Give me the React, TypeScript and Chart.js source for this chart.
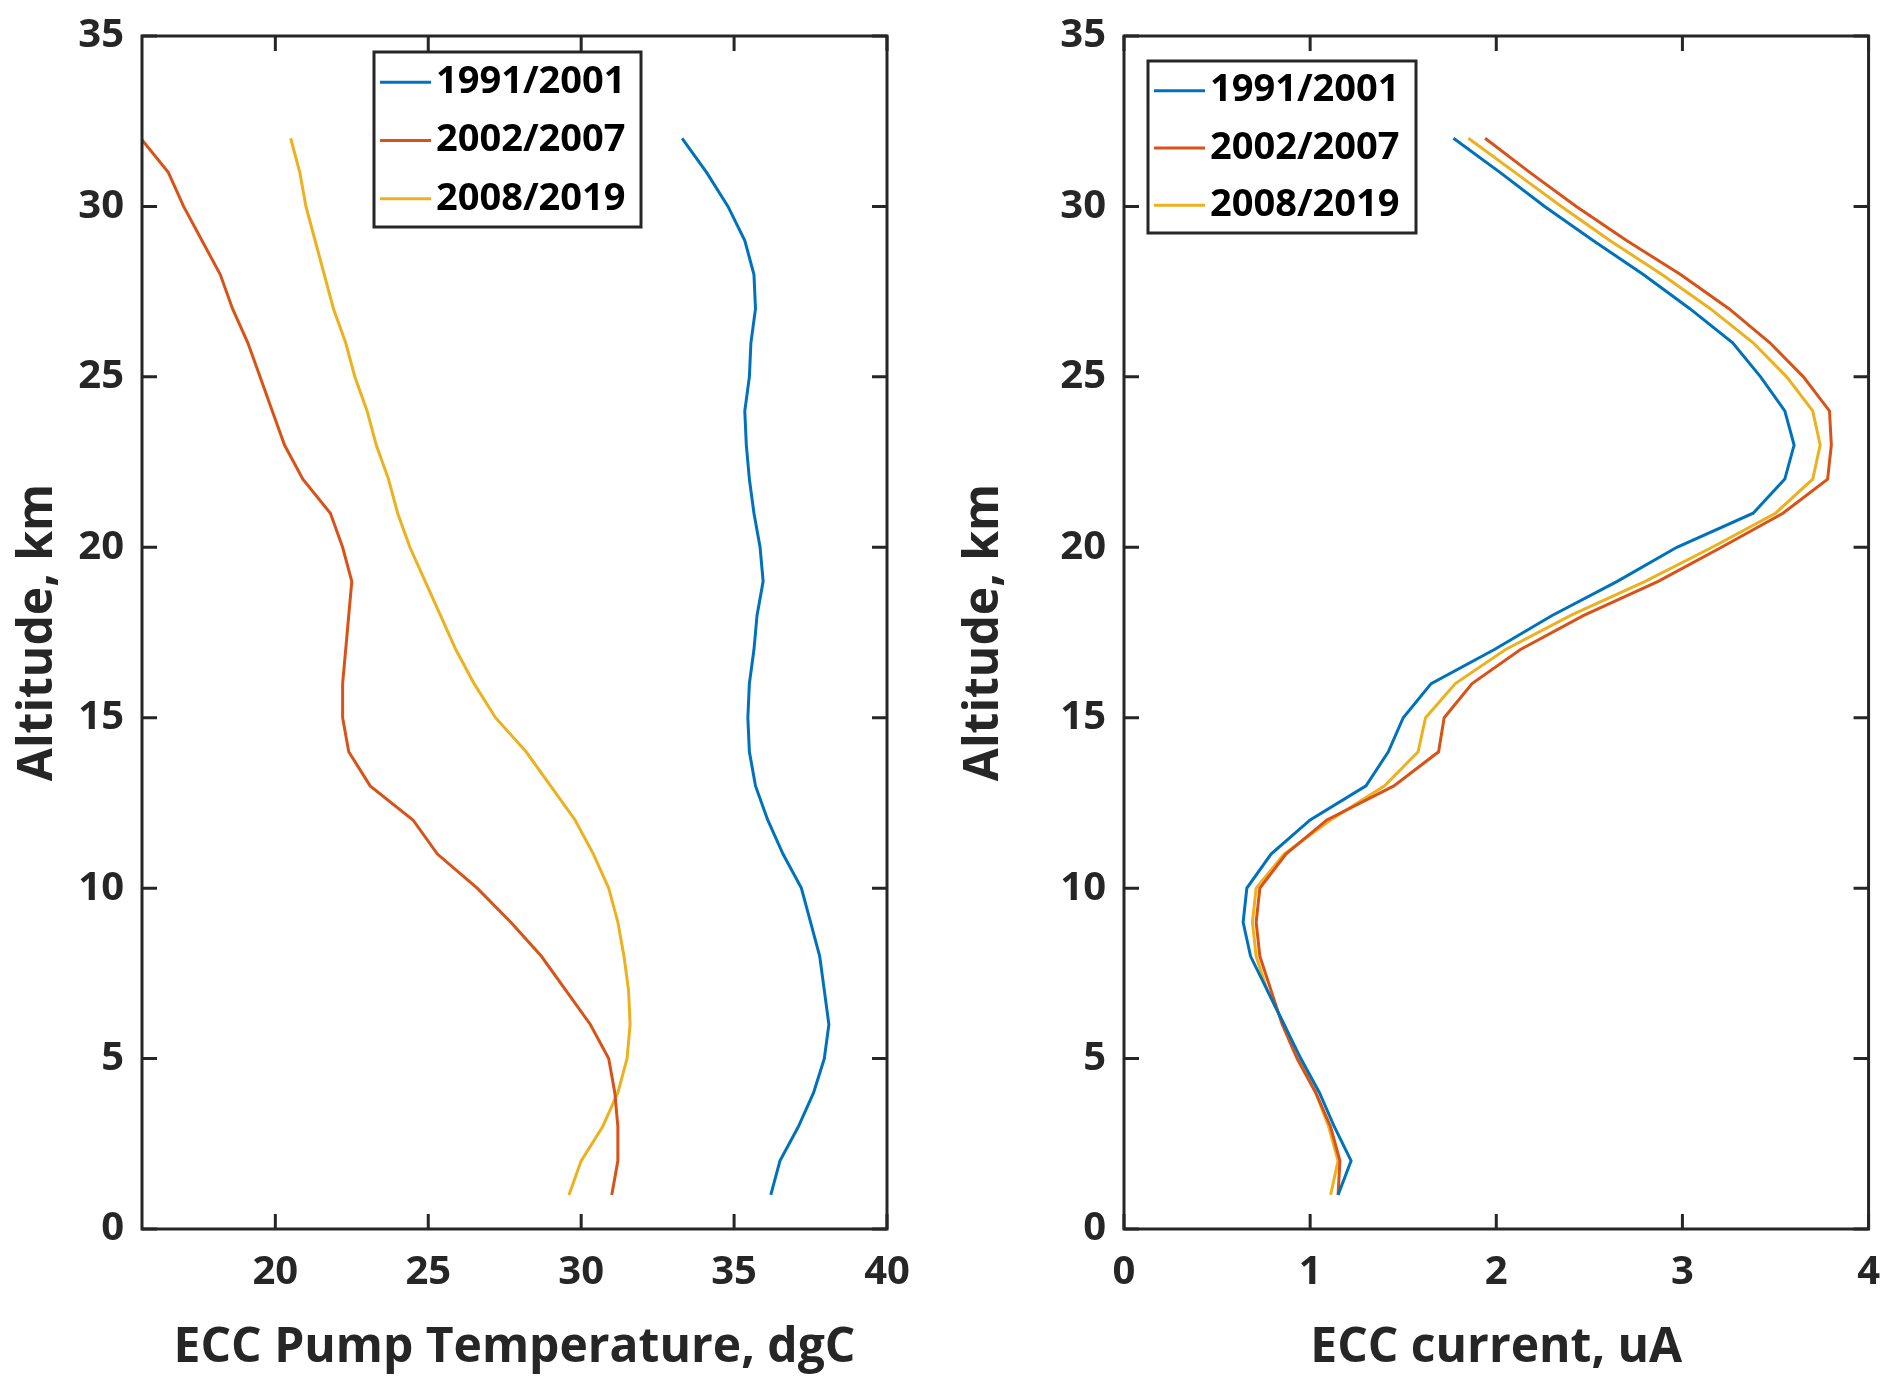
import React, { useEffect, useRef } from "react";
import Chart from "chart.js/auto";

const altitudes = Array.from({ length: 32 }, (_, i) => i + 1);
const seriesNames = ["1991/2001", "2002/2007", "2008/2019"];
const colors = ["#0072BD", "#D95319", "#EDB120"];

const tempBlue = [36.2,36.5,37.1,37.6,37.95,38.1,37.95,37.8,37.5,37.2,36.6,36.1,35.7,35.5,35.45,35.5,35.65,35.75,35.95,35.85,35.65,35.5,35.4,35.35,35.5,35.55,35.7,35.65,35.35,34.8,34.1,33.3];
const tempRed = [31.0,31.2,31.2,31.1,30.9,30.3,29.5,28.7,27.7,26.6,25.3,24.5,23.1,22.4,22.2,22.2,22.3,22.4,22.5,22.2,21.8,20.9,20.3,19.9,19.5,19.1,18.6,18.2,17.6,17.0,16.5,15.6];
const tempYellow = [29.6,30.0,30.7,31.2,31.5,31.6,31.55,31.4,31.2,30.9,30.4,29.8,29.0,28.2,27.2,26.5,25.9,25.4,24.9,24.4,24.0,23.7,23.3,23.0,22.6,22.3,21.9,21.6,21.3,21.0,20.8,20.5];

const curBlue = [1.15,1.22,1.13,1.05,0.95,0.86,0.77,0.68,0.64,0.66,0.79,1.0,1.3,1.42,1.5,1.65,1.99,2.3,2.65,2.97,3.38,3.55,3.6,3.55,3.42,3.27,3.04,2.79,2.52,2.26,2.02,1.77];
const curRed = [1.15,1.16,1.11,1.03,0.93,0.85,0.79,0.73,0.71,0.73,0.87,1.09,1.45,1.69,1.72,1.87,2.13,2.47,2.87,3.21,3.54,3.78,3.8,3.79,3.65,3.47,3.25,2.99,2.7,2.43,2.18,1.94];
const curYellow = [1.11,1.15,1.1,1.03,0.94,0.86,0.77,0.71,0.69,0.71,0.86,1.11,1.4,1.58,1.62,1.78,2.05,2.4,2.8,3.16,3.5,3.7,3.74,3.7,3.56,3.38,3.15,2.89,2.61,2.35,2.1,1.85];

const xTicksTemp = [20, 25, 30, 35, 40];
const xTicksCur = [0, 1, 2, 3, 4];
const yTicks = [0, 5, 10, 15, 20, 25, 30, 35];

const FONT = "'Open Sans', 'Noto Sans', sans-serif";
const INK = "#262626";

function makeChart(canvas: HTMLCanvasElement, cfg: any) {
  const frame = {
    id: "frame",
    afterDatasetsDraw(chart: any) {
      const { ctx, chartArea: a, scales } = chart;
      ctx.save();
      ctx.strokeStyle = INK;
      ctx.lineWidth = 3;
      ctx.strokeRect(a.left, a.top, a.right - a.left, a.bottom - a.top);
      const L = 15;
      ctx.beginPath();
      for (const v of cfg.xTicks) {
        const x = scales.x.getPixelForValue(v);
        ctx.moveTo(x, a.bottom); ctx.lineTo(x, a.bottom - L);
        ctx.moveTo(x, a.top); ctx.lineTo(x, a.top + L);
      }
      for (const v of yTicks) {
        const y = scales.y.getPixelForValue(v);
        ctx.moveTo(a.left, y); ctx.lineTo(a.left + L, y);
        ctx.moveTo(a.right, y); ctx.lineTo(a.right - L, y);
      }
      ctx.stroke();
      const lg = cfg.legend;
      ctx.fillStyle = "#ffffff";
      ctx.fillRect(lg.x, lg.y, lg.w, lg.h);
      ctx.lineWidth = 3;
      ctx.strokeStyle = INK;
      ctx.strokeRect(lg.x, lg.y, lg.w, lg.h);
      ctx.font = `bold 38px ${FONT}`;
      ctx.textBaseline = "middle";
      ctx.textAlign = "left";
      seriesNames.forEach((n, i) => {
        const y = lg.y + lg.h / 6 + (i * lg.h) / 3 + 1;
        ctx.strokeStyle = colors[i];
        ctx.lineWidth = 3;
        ctx.beginPath();
        ctx.moveTo(lg.x + 6, y); ctx.lineTo(lg.x + 57, y);
        ctx.stroke();
        ctx.fillStyle = "#000";
        ctx.fillText(n, lg.x + 62, y);
      });
      ctx.restore();
    },
  };
  return new Chart(canvas, {
    type: "line",
    data: {
      datasets: cfg.series.map((s: number[], i: number) => ({
        label: seriesNames[i],
        data: s.map((v, k) => ({ x: v, y: altitudes[k] })),
        borderColor: colors[i],
        borderWidth: 3,
        pointRadius: 0,
        fill: false,
        tension: 0,
      })),
    },
    options: {
      animation: false,
      responsive: false,
      maintainAspectRatio: false,
      layout: { padding: { top: 36, right: cfg.padRight, left: 0, bottom: 0 } },
      plugins: { legend: { display: false }, tooltip: { enabled: false } },
      scales: {
        x: {
          type: "linear",
          min: cfg.xMin,
          max: cfg.xMax,
          grid: { display: false },
          border: { display: false },
          afterBuildTicks: (s: any) => { s.ticks = cfg.xTicks.map((v: number) => ({ value: v })); },
          afterFit: (s: any) => { s.height = 154; },
          ticks: { color: INK, font: { family: FONT, size: 40, weight: "bold" }, padding: 12, maxRotation: 0 },
          title: { display: true, text: cfg.xTitle, color: INK, font: { family: FONT, size: 48, weight: "bold" }, padding: { top: 0, bottom: 6 } },
        },
        y: {
          type: "linear",
          min: 0,
          max: 35,
          grid: { display: false },
          border: { display: false },
          afterBuildTicks: (s: any) => { s.ticks = yTicks.map((v) => ({ value: v })); },
          afterFit: (s: any) => { s.width = cfg.yWidth; },
          ticks: { color: INK, font: { family: FONT, size: 40, weight: "bold" }, padding: 10 },
          title: { display: true, text: "Altitude, km", color: INK, font: { family: FONT, size: 48, weight: "bold" }, padding: { top: 10, bottom: 0 } },
        },
      },
    },
    plugins: [frame],
  });
}

export default function App() {
  const r1 = useRef<HTMLCanvasElement>(null);
  const r2 = useRef<HTMLCanvasElement>(null);
  useEffect(() => {
    const c1 = makeChart(r1.current!, {
      series: [tempBlue, tempRed, tempYellow],
      xMin: 15.64, xMax: 40, xTicks: xTicksTemp,
      xTitle: "ECC Pump Temperature, dgC",
      yWidth: 142, padRight: 59,
      legend: { x: 374, y: 52, w: 267, h: 175 },
    });
    const c2 = makeChart(r2.current!, {
      series: [curBlue, curRed, curYellow],
      xMin: 0, xMax: 4, xTicks: xTicksCur,
      xTitle: "ECC current, uA",
      yWidth: 178, padRight: 22,
      legend: { x: 202, y: 61, w: 268, h: 172 },
    });
    return () => { c1.destroy(); c2.destroy(); };
  }, []);
  return (
    <div style={{ position: "absolute", left: 0, top: 0, width: 1892, height: 1383, background: "#fff" }}>
      <canvas ref={r1} width={946} height={1383} style={{ position: "absolute", left: 0, top: 0, width: 946, height: 1383 }} />
      <canvas ref={r2} width={946} height={1383} style={{ position: "absolute", left: 946, top: 0, width: 946, height: 1383 }} />
    </div>
  );
}
